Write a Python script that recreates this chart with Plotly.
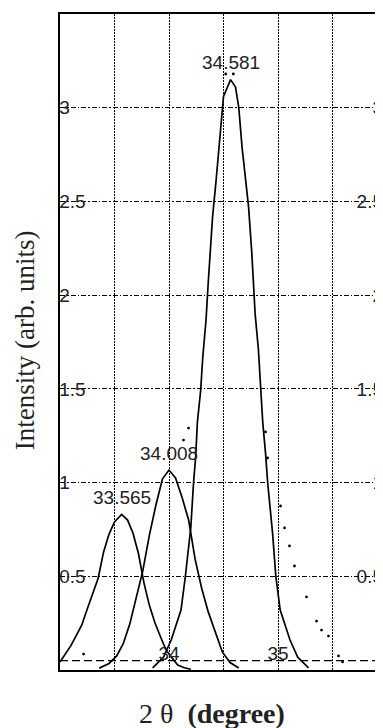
import plotly.graph_objects as go

# ---------------- data ----------------
# fitted component 1 (33.565)
peak1_x = [33.00, 33.05, 33.10, 33.15, 33.20, 33.25, 33.30, 33.35, 33.40, 33.45, 33.50,
           33.565, 33.62, 33.67, 33.72, 33.77, 33.82, 33.87, 33.92, 33.97, 34.02, 34.08,
           34.14, 34.20]
peak1_y = [0.043, 0.085, 0.13, 0.185, 0.24, 0.325, 0.41, 0.49, 0.63, 0.725, 0.79,
           0.83, 0.80, 0.73, 0.62, 0.465, 0.345, 0.253, 0.18, 0.11, 0.07, 0.027,
           0.012, 0.004]

# fitted component 2 (34.008)
peak2_x = [33.36, 33.45, 33.52, 33.58, 33.64, 33.70, 33.76, 33.82, 33.88, 33.94, 34.00,
           34.06, 34.12, 34.18, 34.24, 34.30, 34.36, 34.42, 34.49, 34.56, 34.64]
peak2_y = [0.01, 0.035, 0.075, 0.14, 0.245, 0.385, 0.53, 0.72, 0.88, 1.02, 1.067,
           1.025, 0.92, 0.80, 0.59, 0.435, 0.31, 0.21, 0.095, 0.04, 0.011]

# fitted component 3 (34.581)
peak3_x = [33.85, 33.95, 34.02, 34.11, 34.15, 34.20, 34.225, 34.245, 34.26, 34.29, 34.31,
           34.34, 34.36, 34.38, 34.40, 34.43, 34.47, 34.50, 34.565, 34.61, 34.64, 34.67,
           34.70, 34.73, 34.76, 34.79, 34.82, 34.84, 34.86, 34.885, 34.905, 34.95, 34.98,
           35.02, 35.11, 35.18, 35.28]
peak3_y = [0.011, 0.069, 0.16, 0.32, 0.50, 0.76, 1.00, 1.14, 1.32, 1.49, 1.67,
           1.87, 2.07, 2.25, 2.42, 2.60, 2.87, 3.06, 3.15, 3.11, 3.00, 2.79,
           2.63, 2.47, 2.22, 1.90, 1.71, 1.49, 1.32, 1.16, 1.00, 0.73, 0.50,
           0.32, 0.16, 0.069, 0.011]

# measured points (dots) that remain visible
data_x = [33.216, 34.133, 34.179, 34.52, 34.59, 34.885, 34.904, 35.023, 35.06, 35.105,
          35.151, 35.261, 35.353, 35.399, 35.463, 35.555, 35.592]
data_y = [0.085, 1.227, 1.291, 3.18, 3.18, 1.27, 1.131, 0.875, 0.758, 0.662,
          0.555, 0.39, 0.261, 0.213, 0.181, 0.075, 0.043]

baseline_y = 0.05
x_min, x_max = 33.0, 35.963
y_min, y_max = 0.0, 3.5

peak_labels = ["33.565", "34.008", "34.581"]
x_gridvals = [33.5, 34, 34.5, 35, 35.5]
x_ticktext = ["", "34", "", "35", ""]
y_tickvals = [0.5, 1, 1.5, 2, 2.5, 3]
y_ticktext = ["0.5", "1", "1.5", "2", "2.5", "3"]

# ---------------- figure ----------------
fig = go.Figure()
for xs, ys in [(peak1_x, peak1_y), (peak2_x, peak2_y), (peak3_x, peak3_y)]:
    fig.add_trace(go.Scatter(x=xs, y=ys, mode="lines",
                             line=dict(color="black", width=1.7),
                             hoverinfo="skip", showlegend=False))

fig.add_trace(go.Scatter(x=[x_min, x_max], y=[baseline_y, baseline_y], mode="lines",
                         line=dict(color="black", width=1.4, dash="8px,4px"),
                         hoverinfo="skip", showlegend=False))

fig.add_trace(go.Scatter(x=data_x, y=data_y, mode="markers",
                         marker=dict(color="black", size=2.8),
                         hoverinfo="skip", showlegend=False))

# invisible trace to carry the right-hand axis
fig.add_trace(go.Scatter(x=[x_min], y=[y_min], yaxis="y2", mode="markers",
                         marker=dict(opacity=0), hoverinfo="skip", showlegend=False))

tick_font = dict(family="Liberation Sans, Arial, sans-serif", size=19, color="#222")

annotations = []
for lbl, xs, ys in zip(peak_labels, [peak1_x, peak2_x, peak3_x], [peak1_y, peak2_y, peak3_y]):
    i = ys.index(max(ys))
    annotations.append(dict(x=xs[i], y=ys[i], xref="x", yref="y", text=lbl,
                            showarrow=False, yanchor="middle", xanchor="center",
                            yshift=17, font=tick_font))

title_font = dict(family="Liberation Serif, Times New Roman, serif", size=27, color="#222")
annotations.append(dict(x=-0.108, y=0.503, xref="paper", yref="paper",
                        text="Intensity (arb. units)", textangle=-90, showarrow=False,
                        xanchor="center", yanchor="middle", font=title_font))
annotations.append(dict(x=0.472, y=-0.067, xref="paper", yref="paper",
                        text="2 θ&nbsp;&nbsp;<b>(degree)</b>", showarrow=False,
                        xanchor="center", yanchor="middle",
                        font=dict(title_font, size=28)))

# the page body adds an 8px offset; the figure is sized to end at the window edge
fig.update_layout(
    width=375, height=720,
    margin=dict(l=52, r=0, t=6, b=58, pad=0),
    paper_bgcolor="white", plot_bgcolor="white",
    showlegend=False,
    xaxis=dict(range=[x_min, x_max], tickvals=x_gridvals, ticktext=x_ticktext,
               showgrid=True, gridcolor="black", gridwidth=1.2, griddash="2px,1px",
               ticks="", ticklabelposition="inside", ticklabelstandoff=7,
               tickfont=tick_font,
               showline=True, linecolor="black", linewidth=2, mirror=True,
               zeroline=False, fixedrange=True),
    yaxis=dict(range=[y_min, y_max], tickvals=y_tickvals, ticktext=y_ticktext,
               showgrid=True, gridcolor="black", gridwidth=1.2,
               griddash="5px,2px,1.5px,2px",
               ticks="", ticklabelposition="inside", tickfont=tick_font,
               showline=True, linecolor="black", linewidth=2, mirror=False,
               zeroline=False, fixedrange=True),
    yaxis2=dict(range=[y_min, y_max], tickvals=y_tickvals, ticktext=y_ticktext,
                overlaying="y", side="right", anchor="x",
                showgrid=False, ticks="", ticklabelposition="inside",
                ticklabelstandoff=-3,
                tickfont=tick_font, showline=False, zeroline=False, fixedrange=True),
    annotations=annotations,
)

fig.write_html("out.html")
